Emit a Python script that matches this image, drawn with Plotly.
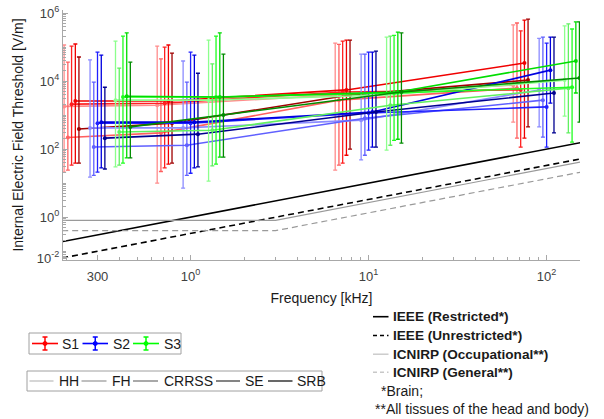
import math
import plotly.graph_objects as go

# ---------------- data ----------------
freqs_khz = [0.3, 1, 10, 100]
series_names = ["S1", "S2", "S3"]
tissue_names = ["HH", "FH", "CRRSS", "SE", "SRB"]

# [tissue][frequency]  (V/m)
s1_center = [[1800, 1950, 3900, 7600], [220, 300, 2750, 6200], [2100, 2240, 4800, 5500],
             [2600, 2600, 5500, 34000], [390, 580, 3900, 10700]]
s1_upper = [[1.15e5, 1.07e5, 1.3e5, 4.5e5], [3.6e4, 4.5e4, 1.2e5, 5.1e5], [1.07e5, 1.0e5, 1.5e5, 3.0e5],
            [1.23e5, 1.15e5, 1.6e5, 6.2e5], [5.1e4, 6.6e4, 1.6e5, 6.6e5]]
s1_lower = [[21, 10, 24, 620], [24, 22, 34, 210], [34, 28, 39, 115], [39, 36, 66, 210], [39, 39, 100, 450]]

s2_center = [[420, 420, 710, 5500], [115, 130, 810, 2750], [580, 580, 1150, 1740],
             [620, 620, 1230, 21000], [210, 275, 1230, 4470]]
s2_upper = [[4.2e4, 3.9e4, 6.2e4, 1.8e5], [9.3e3, 9.3e3, 6.2e4, 1.95e5], [7.1e4, 7.1e4, 7.1e4, 1.3e5],
            [5.8e4, 5.8e4, 7.1e4, 1.95e5], [6.6e3, 1.7e4, 7.6e4, 1.95e5]]
s2_lower = [[15, 7.1, 48, 450], [17, 17, 66, 225], [21, 19.5, 93, 115], [28, 28, 115, 2240], [26, 30, 115, 300]]

s3_center = [[2750, 2750, 3900, 10700], [320, 360, 1950, 6200], [3400, 3400, 4470, 6600],
             [3600, 3400, 4800, 39000], [450, 1000, 4800, 12300]]
s3_upper = [[1.5e5, 1.6e5, 1.95e5, 4.2e5], [2.4e4, 3.2e4, 2.1e5, 4.8e5], [2.1e5, 2.1e5, 2.2e5, 3.4e5],
            [2.6e5, 2.6e5, 2.75e5, 5.5e5], [3.6e4, 6.2e4, 2.6e5, 5.5e5]]
s3_lower = [[30, 11.5, 93, 930], [34, 32, 130, 300], [39, 36, 180, 160], [55, 58, 195, 4470], [55, 58, 150, 620]]

# exposure limits
limit_freq = [0.19, 160]
ieee_restricted = [0.19, 160]
ieee_unrestricted = [0.063, 53]
icnirp_freq = [0.19, 3, 160]
icnirp_occupational = [0.8, 0.8, 43.2]
icnirp_general = [0.4, 0.4, 21.6]
limit_names = ["IEEE (Restricted*)", "IEEE (Unrestricted*)", "ICNIRP (Occupational**)", "ICNIRP (General**)"]
footnotes = ["*Brain;", "**All tissues of the head and body)"]

# ---------------- style ----------------
shade_colors = [
    ["#ff8c8c", "#ff6060", "#ff2020", "#f00000", "#a00000"],
    ["#8c8cff", "#6060ff", "#2020ff", "#0000e0", "#000090"],
    ["#8cff8c", "#60f060", "#20ff20", "#00dd00", "#008c00"],
]
series_colors = ["#ff0000", "#0000ff", "#00ff00"]
gray_shades = ["#c4c4c4", "#a4a4a4", "#848484", "#505050", "#282828"]
series_dodge = [0.715, 1.0, 1.39]
tissue_dodge = [0.908, 0.953, 1.0, 1.05, 1.1]

centers = [s1_center, s2_center, s3_center]
uppers = [s1_upper, s2_upper, s3_upper]
lowers = [s1_lower, s2_lower, s3_lower]

FONT = "Arial, Liberation Sans, sans-serif"
TXT = "#1a1a1a"
fig = go.Figure()

for si in range(3):
    for ti in range(5):
        c = centers[si][ti]
        up = uppers[si][ti]
        lo = lowers[si][ti]
        xs = [f * series_dodge[si] * tissue_dodge[ti] for f in freqs_khz]
        col = shade_colors[si][ti]
        fig.add_trace(go.Scatter(
            x=xs, y=c, mode="lines+markers", showlegend=False,
            name=f"{series_names[si]} {tissue_names[ti]}",
            line=dict(color=col, width=1.6),
            marker=dict(color=col, size=4),
            error_y=dict(type="data", symmetric=False,
                         array=[u - v for u, v in zip(up, c)],
                         arrayminus=[v - l for v, l in zip(c, lo)],
                         color=col, thickness=1.3, width=2),
        ))

limit_styles = [("black", 1.6, "solid"), ("black", 1.6, "6px,4px"),
                ("#9a9a9a", 1.2, "solid"), ("#9a9a9a", 1.2, "6px,4px")]
limit_data = [(limit_freq, ieee_restricted), (limit_freq, ieee_unrestricted),
              (icnirp_freq, icnirp_occupational), (icnirp_freq, icnirp_general)]
for (xv, yv), (col, w, d), nm in zip(limit_data, limit_styles, limit_names):
    fig.add_trace(go.Scatter(x=xv, y=yv, mode="lines", name=nm, showlegend=False,
                             line=dict(color=col, width=w, dash=d)))

L, R, T, B = 63, 24, 10, 159
PW, PH = 604 - L - R, 419 - T - B


def px(x):
    return (x - L) / PW


def py(y):
    return (419 - B - y) / PH


shapes = []
annotations = []


def seg(x0, y0, x1, y1, color, width=1.5, dash="solid"):
    shapes.append(dict(type="line", xref="paper", yref="paper", x0=px(x0), y0=py(y0), x1=px(x1), y1=py(y1),
                       line=dict(color=color, width=width, dash=dash)))


def box(x0, y0, x1, y1):
    shapes.append(dict(type="rect", xref="paper", yref="paper", x0=px(x0), y0=py(y0), x1=px(x1), y1=py(y1),
                       line=dict(color="#a0a0a0", width=1), fillcolor="rgba(0,0,0,0)"))


def label(text, x, y, size=14, bold=False):
    annotations.append(dict(text=f"<b>{text}</b>" if bold else text, x=px(x), y=py(y), xref="paper", yref="paper",
                            showarrow=False, xanchor="left", yanchor="middle",
                            font=dict(size=size, color=TXT, family=FONT)))


# legend: series (with error-bar glyph)
box(29, 333, 181, 354)
ly = 343.5
for si, (x0, x1, xt) in enumerate([(32, 58, 60), (82.5, 108, 110.5), (133, 159, 161.5)]):
    col = series_colors[si]
    xm = (x0 + x1) / 2
    seg(x0, ly, x1, ly, col, 1.6)
    seg(xm, ly - 6.5, xm, ly + 6.5, col, 1.5)
    seg(xm - 2.5, ly - 6.5, xm + 2.5, ly - 6.5, col, 1.5)
    seg(xm - 2.5, ly + 6.5, xm + 2.5, ly + 6.5, col, 1.5)
    shapes.append(dict(type="circle", xref="paper", yref="paper", x0=px(xm - 2), x1=px(xm + 2),
                       y0=py(ly - 2), y1=py(ly + 2), line=dict(color=col, width=1), fillcolor=col))
    label(series_names[si], xt, ly)

# legend: tissues
box(27, 371, 322, 391)
ly = 381
for ti, (x0, x1, xt) in enumerate([(29.5, 53.5, 56.5), (81.5, 106.5, 110), (133, 158, 161.5),
                                   (216, 240, 242.5), (268, 292.5, 295)]):
    seg(x0, ly, x1, ly, gray_shades[ti], 1.4)
    label(tissue_names[ti], xt, ly)

# legend: limits
for (col, w, d), nm, yy in zip([("black", 1.6, "solid"), ("black", 1.6, "4px,3px"),
                                ("#c8c8c8", 1.4, "solid"), ("#c8c8c8", 1.4, "4px,3px")],
                               limit_names, [316.7, 335.5, 354.2, 372.3]):
    seg(373, yy, 388.5, yy, col, w, d)
    label(nm, 391, yy, size=13.6, bold=True)

label(footnotes[0], 378.5, 390.5, size=14)
label(footnotes[1], 373, 409.5, size=14)

fig.update_layout(
    width=604, height=419,
    margin=dict(l=L, r=R, t=T, b=B, autoexpand=False),
    paper_bgcolor="white", plot_bgcolor="white",
    font=dict(family=FONT, size=13, color=TXT),
    showlegend=False,
    xaxis=dict(type="log", range=[math.log10(0.192), math.log10(154)], automargin=False,
               showline=True, linecolor="#a8a8a8", linewidth=1,
               ticks="inside", ticklen=5, tickcolor="#a8a8a8",
               tickvals=[0.3, 1, 10, 100],
               ticktext=["300", "10<sup>0</sup>", "10<sup>1</sup>", "10<sup>2</sup>"],
               tickfont=dict(size=13, color="#404040"), ticklabelstandoff=4,
               minor=dict(ticks="inside", ticklen=3, tickcolor="#a8a8a8", dtick="D1", showgrid=False),
               showgrid=False, zeroline=False,
               title=dict(text="Frequency [kHz]", font=dict(size=14, color=TXT), standoff=10)),
    yaxis=dict(type="log", range=[-1.26, 6.09], automargin=False,
               showline=True, linecolor="#a8a8a8", linewidth=1,
               ticks="inside", ticklen=5, tickcolor="#a8a8a8",
               tickvals=[10 ** -1.2, 1, 100, 1e4, 1e6],
               ticktext=["10<sup>-2</sup>", "10<sup>0</sup>", "10<sup>2</sup>", "10<sup>4</sup>", "10<sup>6</sup>"],
               tickfont=dict(size=13, color="#404040"),
               minor=dict(ticks="inside", ticklen=3, tickcolor="#a8a8a8", dtick="D1", showgrid=False),
               showgrid=False, zeroline=False,
               title=dict(text="Internal Electric Field Threshold [V/m]", font=dict(size=14, color=TXT),
                          standoff=9)),
    shapes=shapes,
    annotations=annotations,
)

fig.write_html("out.html", config={"displayModeBar": False},
               post_script="document.body.style.margin='0px';document.body.style.overflow='hidden';")
